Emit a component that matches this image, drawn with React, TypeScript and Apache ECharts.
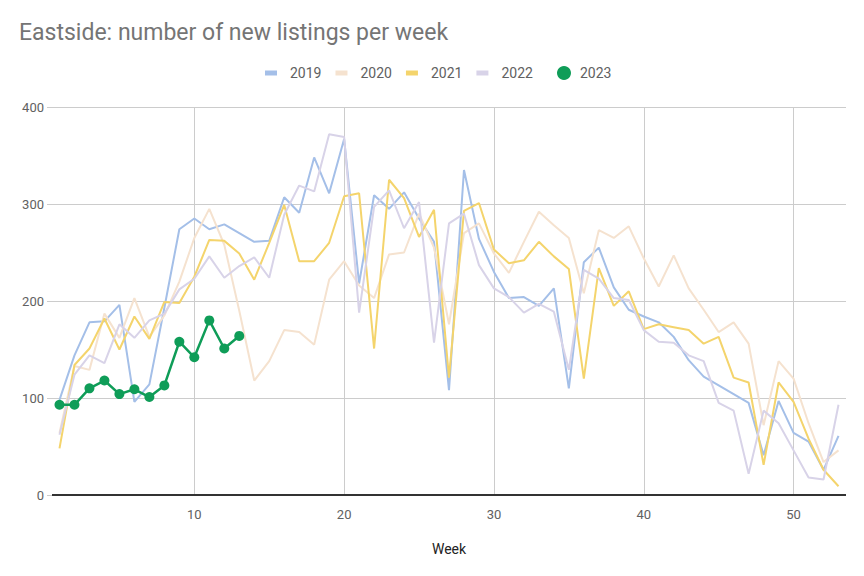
import React, { useEffect, useRef } from "react";
import * as echarts from "echarts";

const weeks = Array.from({ length: 53 }, (_, i) => i + 1);
const xTicks = [10, 20, 30, 40, 50];
const yTicks = [0, 100, 200, 300, 400];

const y2019 = [98, 144, 178, 179, 196, 96, 114, 193, 274, 285, 274, 279, 270, 261, 262, 307, 291, 348, 311, 367, 218, 309, 295, 312, 285, 261, 108, 335, 264, 230, 203, 204, 195, 213, 110, 240, 255, 214, 191, 184, 178, 163, 139, 122, 113, 104, 95, 41, 97, 64, 55, 26, 61];
const y2020 = [64, 133, 129, 187, 162, 203, 163, 185, 220, 265, 295, 258, 190, 118, 138, 170, 168, 155, 222, 241, 216, 203, 248, 250, 290, 255, 176, 270, 280, 249, 229, 261, 292, 278, 265, 208, 273, 265, 277, 244, 215, 247, 213, 191, 168, 178, 156, 72, 138, 120, 74, 34, 46];
const y2021 = [48, 134, 151, 182, 150, 184, 161, 199, 198, 225, 263, 262, 249, 222, 260, 299, 241, 241, 260, 308, 311, 151, 325, 306, 266, 294, 121, 293, 301, 253, 239, 242, 261, 246, 233, 120, 234, 195, 210, 171, 176, 173, 170, 156, 163, 121, 116, 31, 116, 96, 58, 26, 9];
const y2022 = [62, 124, 144, 136, 176, 162, 180, 187, 212, 223, 246, 224, 236, 245, 224, 289, 319, 313, 372, 369, 188, 297, 314, 275, 302, 157, 280, 290, 237, 213, 204, 188, 197, 189, 129, 232, 223, 203, 201, 170, 158, 157, 144, 138, 95, 87, 22, 87, 74, 46, 18, 16, 93];
const y2023 = [93, 93, 110, 118, 104, 109, 101, 113, 158, 142, 180, 151, 164];

const lineYears = ["2019", "2020", "2021", "2022"];
const lineValues = [y2019, y2020, y2021, y2022];
const lineColors = ["#a4bfe8", "#f5e2cf", "#f4d46c", "#d8d3e8"];
const green = "#0f9d58";

const FONT = "Roboto";

export default function App() {
  const ref = useRef<HTMLDivElement>(null);
  useEffect(() => {
    if (!ref.current) return;
    document.body.style.margin = "0";
    const chart = echarts.init(ref.current, null, { renderer: "svg" });
    const toPairs = (vals: number[]) => vals.map((v, i) => [weeks[i], v]);
    const series: any[] = lineYears.map((name, k) => ({
      name,
      type: "line",
      data: toPairs(lineValues[k]),
      showSymbol: false,
      symbol: "none",
      lineStyle: { color: lineColors[k], width: 2 },
      itemStyle: { color: lineColors[k] },
      z: 2,
    }));
    series.push({
      name: "2023",
      type: "line",
      data: toPairs(y2023),
      symbol: "circle",
      symbolSize: 10,
      lineStyle: { color: green, width: 2.5 },
      itemStyle: { color: green },
      z: 5,
    });
    chart.setOption({
      animation: false,
      backgroundColor: "#ffffff",
      textStyle: { fontFamily: FONT },
      title: {
        text: "Eastside: number of new listings per week",
        left: 14,
        top: 16,
        textStyle: { fontFamily: FONT, fontSize: 23, fontWeight: "normal", color: "#757575" },
      },
      legend: [
        {
          data: lineYears.map((n) => ({ name: n, icon: "rect" })),
          left: 260,
          top: 61,
          itemWidth: 12,
          itemHeight: 5,
          itemGap: 14,
          textStyle: { fontFamily: FONT, fontSize: 14, color: "#616161", padding: [0, 0, 0, 8] },
        },
        {
          data: [{ name: "2023", icon: "circle" }],
          left: 552,
          top: 61,
          itemWidth: 14,
          itemHeight: 14,
          textStyle: { fontFamily: FONT, fontSize: 14, color: "#616161", padding: [0, 0, 0, 4] },
        },
      ],
      grid: { left: 52, right: 18, top: 107, bottom: 81, containLabel: false },
      xAxis: {
        type: "value",
        min: 0.5,
        max: 53.5,
        name: "Week",
        nameLocation: "middle",
        nameGap: 47,
        nameTextStyle: { fontFamily: FONT, fontSize: 14, color: "#222222" },
        axisLine: { show: false },
        axisTick: { show: false, customValues: xTicks },
        axisLabel: {
          customValues: xTicks,
          margin: 13,
          fontFamily: FONT,
          fontSize: 13,
          color: "#616161",
        },
        splitLine: { show: true, lineStyle: { color: "#cccccc", width: 1 } },
      },
      yAxis: {
        type: "value",
        min: 0,
        max: 400,
        interval: 100,
        axisLine: { show: false },
        axisTick: { show: true, length: 5, lineStyle: { color: "#cccccc" } },
        axisLabel: {
          margin: 8,
          fontFamily: FONT,
          fontSize: 13,
          color: "#616161",
          formatter: (v: number) => (yTicks.includes(v) ? String(v) : ""),
        },
        splitLine: { show: true, lineStyle: { color: "#cccccc", width: 1 } },
      },
      series: [
        ...series,
        {
          type: "line",
          data: [],
          silent: true,
          markLine: {
            silent: true,
            symbol: "none",
            label: { show: false },
            lineStyle: { color: "#333333", width: 2, type: "solid" },
            data: [{ yAxis: 0 }],
          },
          z: 1,
        },
      ],
    });
    return () => chart.dispose();
  }, []);
  return <div ref={ref} style={{ width: 864, height: 576 }} />;
}
